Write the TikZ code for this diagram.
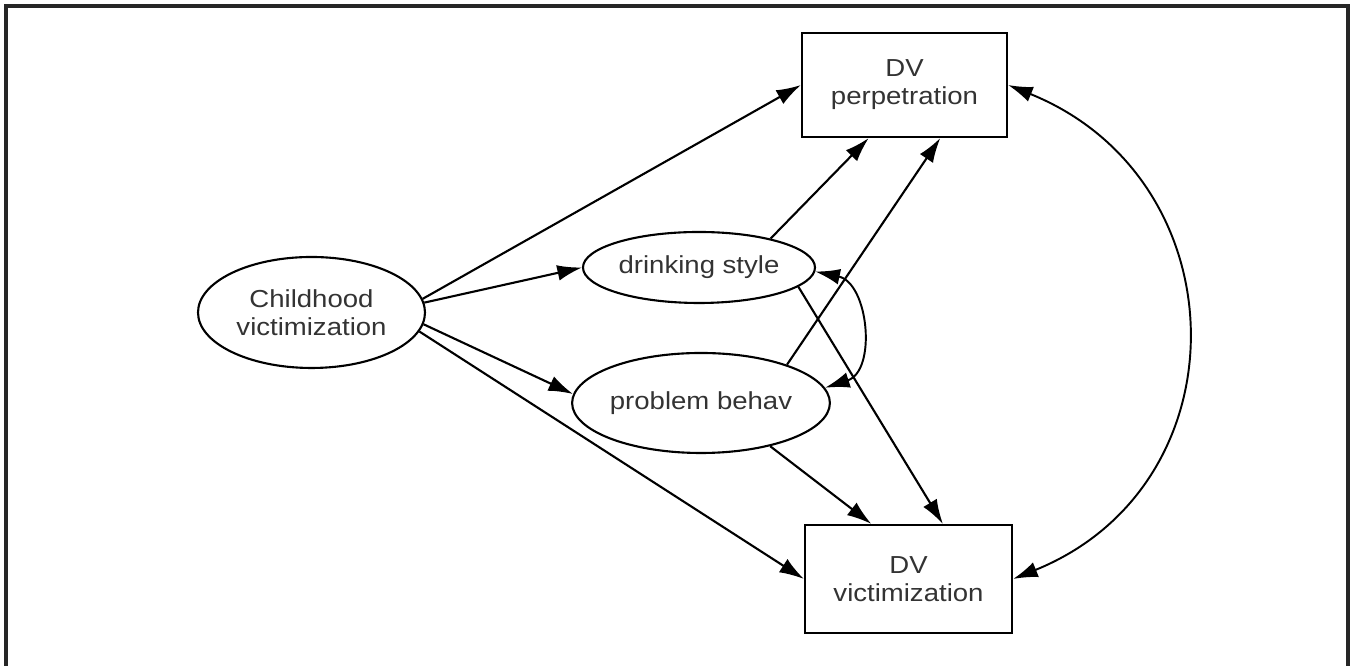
\documentclass[tikz,border=0pt]{standalone}
\usepackage{fontspec}
\newfontfamily\diagfont[FakeStretch=1.12]{Liberation Sans}
\usetikzlibrary{shapes,arrows.meta,positioning}

\begin{document}
\begin{tikzpicture}[
    ovalnode/.style={ellipse, draw, line width=1.2pt, inner sep=0pt, align=center},
    boxnode/.style={rectangle, draw, line width=1.2pt, inner sep=0pt, align=center},
    arr/.style={line width=1.2pt, -{Latex[length=14pt,width=9pt]}},
    dblarr/.style={line width=1.1pt, {Latex[length=14pt,width=9pt]}-{Latex[length=14pt,width=9pt]}},
    every node/.style={font=\diagfont\fontsize{14}{16}\selectfont, text=black!80}
]
    \useasboundingbox (0,0) rectangle (27.04,13.32);
    % frame
    \draw[line width=1.8pt, black!85] (0.12,0) -- (0.12,13.2) -- (26.96,13.2) -- (26.96,0);

    % variables
    \node[ovalnode, minimum width=4.54cm, minimum height=2.22cm] (child) at (6.23,7.07) {Childhood\\victimization};
    \node[ovalnode, minimum width=4.64cm, minimum height=1.42cm] (drink) at (13.98,7.97) {drinking style};
    \node[ovalnode, minimum width=4.64cm, minimum height=2.0cm] (prob) at (14.02,5.26) {problem behav};
    \node[boxnode, minimum width=4.1cm, minimum height=2.08cm] (perp) at (18.09,11.62) {DV\\perpetration};
    \node[boxnode, minimum width=4.14cm, minimum height=2.16cm] (vict) at (18.17,1.74) {DV\\victimization};

    % paths
    \draw[arr] (child.7.5) -- (perp.west);
    \draw[arr] (child.5) -- (drink.west);
    \draw[arr] (child.-6.5) -- (prob.176);
    \draw[arr] (child.-10) -- (vict.west);
    \draw[arr] (drink.22) -- (perp.-124);
    \draw[arr] (prob.24) -- (perp.-56);
    \draw[arr] (drink.-11) -- (vict.58);
    \draw[arr] (prob.-32) -- (vict.124);

    % correlations
    \draw[dblarr] (drink.-2) to[out=-12, in=18, looseness=1.2] (prob.7);
    \draw[dblarr] (perp.east) to[out=-22, in=22, looseness=1.3] (vict.east);
\end{tikzpicture}
\end{document}
